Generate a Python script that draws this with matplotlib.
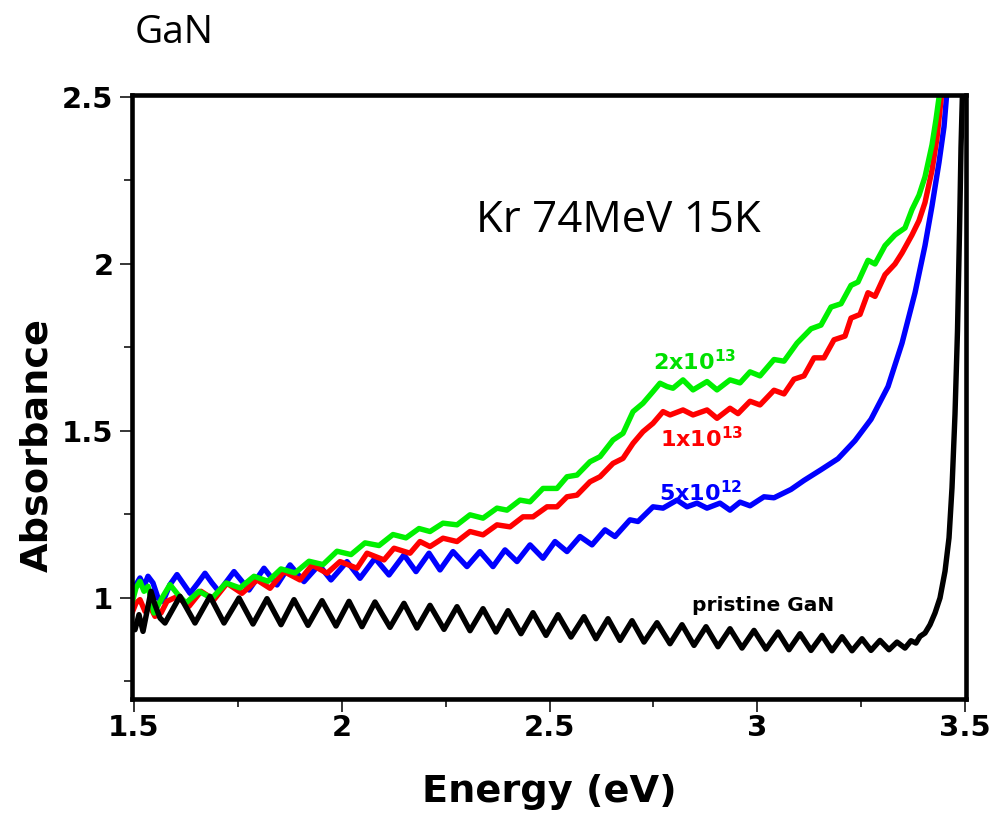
import matplotlib
matplotlib.use("Agg")
import matplotlib.pyplot as plt
from matplotlib.ticker import MultipleLocator, FuncFormatter

# ---- absorbance spectra (photon energy in eV, absorbance) ----
energy_pristine = [1.4928, 1.5024, 1.5120, 1.5217, 1.5313, 1.5409, 1.5505, 1.5626, 1.5746,
                   1.6107, 1.6468, 1.6829, 1.7166, 1.7527, 1.7864, 1.8201, 1.8538, 1.8851,
                   1.9188, 1.9525, 1.9862, 2.0175, 2.0487, 2.0800, 2.1161, 2.1498, 2.1811,
                   2.2124, 2.2461, 2.2774, 2.3087, 2.3400, 2.3713, 2.4001, 2.4314, 2.4603,
                   2.4916, 2.5205, 2.5517, 2.5830, 2.6119, 2.6408, 2.6697, 2.6986, 2.7274,
                   2.7587, 2.7900, 2.8189, 2.8478, 2.8767, 2.9055, 2.9344, 2.9633, 2.9922,
                   3.0211, 3.0500, 3.0764, 3.1029, 3.1294, 3.1558, 3.1799, 3.2040, 3.2281,
                   3.2521, 3.2738, 3.2954, 3.3171, 3.3363, 3.3556, 3.3700, 3.3820, 3.3917,
                   3.4037, 3.4158, 3.4278, 3.4398, 3.4519, 3.4615, 3.4687, 3.4759, 3.4819,
                   3.4868, 3.4904, 3.4940]
abs_pristine = [0.930, 0.905, 0.950, 0.900, 0.960, 1.020, 0.980, 0.940, 0.925,
                1.005, 0.925, 1.005, 0.925, 1.000, 0.922, 0.998, 0.920, 0.995,
                0.918, 0.992, 0.916, 0.990, 0.914, 0.988, 0.912, 0.984, 0.910,
                0.978, 0.906, 0.974, 0.902, 0.968, 0.898, 0.962, 0.893, 0.956,
                0.888, 0.950, 0.883, 0.944, 0.878, 0.938, 0.873, 0.932, 0.868,
                0.926, 0.863, 0.920, 0.858, 0.914, 0.854, 0.908, 0.850, 0.903,
                0.847, 0.898, 0.845, 0.893, 0.843, 0.888, 0.842, 0.884, 0.842,
                0.878, 0.843, 0.873, 0.845, 0.868, 0.850, 0.872, 0.865, 0.885,
                0.895, 0.920, 0.955, 1.000, 1.080, 1.180, 1.330, 1.550, 1.800,
                2.100, 2.350, 2.520]

energy_5e12 = [1.4952, 1.5048, 1.5144, 1.5241, 1.5337, 1.5457, 1.5578, 1.5698, 1.5866,
               1.6035, 1.6203, 1.6348, 1.6540, 1.6709, 1.6877, 1.7046, 1.7407, 1.7768,
               1.8129, 1.8442, 1.8755, 1.9091, 1.9452, 1.9741, 2.0126, 2.0439, 2.0800,
               2.1137, 2.1498, 2.1787, 2.2100, 2.2365, 2.2677, 2.3014, 2.3327, 2.3640,
               2.3929, 2.4218, 2.4531, 2.4843, 2.5132, 2.5421, 2.5734, 2.6023, 2.6336,
               2.6576, 2.6937, 2.7130, 2.7491, 2.7732, 2.8069, 2.8309, 2.8550, 2.8790,
               2.9103, 2.9344, 2.9585, 2.9826, 3.0162, 3.0403, 3.0812, 3.1125, 3.1534,
               3.1943, 3.2352, 3.2738, 3.3147, 3.3484, 3.3797, 3.4037, 3.4206, 3.4374,
               3.4495, 3.4567]
abs_5e12 = [1.000, 1.040, 1.060, 1.035, 1.065, 1.045, 1.000, 0.990, 1.040,
            1.070, 1.040, 1.014, 1.045, 1.074, 1.045, 1.019, 1.079, 1.024,
            1.089, 1.039, 1.099, 1.049, 1.099, 1.054, 1.109, 1.059, 1.119,
            1.069, 1.129, 1.079, 1.134, 1.084, 1.139, 1.094, 1.139, 1.094,
            1.144, 1.109, 1.159, 1.119, 1.169, 1.139, 1.184, 1.159, 1.204,
            1.184, 1.234, 1.229, 1.273, 1.269, 1.293, 1.273, 1.284, 1.269,
            1.284, 1.263, 1.287, 1.276, 1.303, 1.300, 1.325, 1.352, 1.384,
            1.417, 1.471, 1.535, 1.633, 1.763, 1.914, 2.055, 2.174, 2.304,
            2.411, 2.520]

energy_1e13 = [1.4952, 1.5048, 1.5144, 1.5265, 1.5385, 1.5505, 1.5650, 1.5794, 1.6035,
               1.6324, 1.6613, 1.6925, 1.7238, 1.7599, 1.7960, 1.8273, 1.8610, 1.8995,
               1.9284, 1.9645, 1.9958, 2.0367, 2.0608, 2.1017, 2.1258, 2.1643, 2.1883,
               2.2124, 2.2437, 2.2774, 2.3087, 2.3400, 2.3736, 2.4049, 2.4362, 2.4603,
               2.4940, 2.5180, 2.5421, 2.5662, 2.5975, 2.6215, 2.6528, 2.6769, 2.7010,
               2.7250, 2.7491, 2.7732, 2.7901, 2.8213, 2.8454, 2.8791, 2.9031, 2.9344,
               2.9537, 2.9826, 3.0066, 3.0403, 3.0644, 3.0884, 3.1125, 3.1366, 3.1606,
               3.1847, 3.2112, 3.2256, 3.2473, 3.2665, 3.2834, 3.3075, 3.3315, 3.3484,
               3.3724, 3.3893, 3.4037, 3.4206, 3.4326, 3.4447]
abs_1e13 = [0.955, 0.985, 0.995, 0.960, 0.975, 0.945, 0.955, 0.990, 1.004,
            0.975, 1.020, 0.995, 1.044, 1.014, 1.054, 1.029, 1.079, 1.054,
            1.099, 1.074, 1.109, 1.089, 1.134, 1.114, 1.149, 1.134, 1.169,
            1.154, 1.179, 1.169, 1.199, 1.189, 1.219, 1.213, 1.243, 1.243,
            1.273, 1.273, 1.303, 1.308, 1.348, 1.363, 1.403, 1.418, 1.463,
            1.498, 1.523, 1.558, 1.548, 1.563, 1.548, 1.563, 1.538, 1.568,
            1.552, 1.589, 1.578, 1.622, 1.611, 1.655, 1.665, 1.719, 1.719,
            1.773, 1.784, 1.838, 1.849, 1.914, 1.903, 1.968, 2.000, 2.033,
            2.087, 2.130, 2.184, 2.281, 2.378, 2.520]

energy_2e13 = [1.4952, 1.5048, 1.5144, 1.5241, 1.5337, 1.5481, 1.5674, 1.5866, 1.6059,
               1.6251, 1.6564, 1.6877, 1.7214, 1.7551, 1.7888, 1.8225, 1.8538, 1.8875,
               1.9212, 1.9549, 1.9886, 2.0223, 2.0560, 2.0897, 2.1233, 2.1546, 2.1859,
               2.2124, 2.2437, 2.2774, 2.3087, 2.3400, 2.3736, 2.3977, 2.4290, 2.4531,
               2.4843, 2.5180, 2.5421, 2.5662, 2.5975, 2.6215, 2.6528, 2.6769, 2.7010,
               2.7250, 2.7491, 2.7659, 2.7828, 2.7972, 2.8213, 2.8454, 2.8791, 2.9031,
               2.9344, 2.9585, 2.9826, 3.0066, 3.0403, 3.0644, 3.0957, 3.1294, 3.1534,
               3.1775, 3.2016, 3.2256, 3.2425, 3.2665, 3.2834, 3.3075, 3.3315, 3.3556,
               3.3724, 3.3893, 3.4037, 3.4206, 3.4302, 3.4398]
abs_2e13 = [0.985, 1.030, 1.050, 1.020, 1.035, 0.955, 1.000, 1.040, 1.010,
            0.985, 1.020, 0.999, 1.045, 1.030, 1.065, 1.050, 1.087, 1.075,
            1.110, 1.100, 1.140, 1.130, 1.165, 1.157, 1.190, 1.180, 1.208,
            1.199, 1.224, 1.219, 1.249, 1.239, 1.269, 1.263, 1.293, 1.288,
            1.328, 1.328, 1.363, 1.368, 1.408, 1.423, 1.473, 1.493, 1.558,
            1.583, 1.618, 1.643, 1.633, 1.628, 1.653, 1.623, 1.648, 1.623,
            1.653, 1.644, 1.677, 1.665, 1.714, 1.709, 1.763, 1.806, 1.817,
            1.871, 1.881, 1.936, 1.946, 2.011, 2.000, 2.055, 2.087, 2.108,
            2.163, 2.206, 2.261, 2.357, 2.433, 2.520]

# fluence labels
label_2e13 = r"$\mathbf{2x10^{13}}$"
label_1e13 = r"$\mathbf{1x10^{13}}$"
label_5e12 = r"$\mathbf{5x10^{12}}$"
label_pristine = "pristine GaN"

plt.rcParams["font.family"] = ["DejaVu Sans"]
plt.rcParams["font.weight"] = "bold"
plt.rcParams["mathtext.fontset"] = "dejavusans"

fig = plt.figure(figsize=(9.94, 8.14), dpi=100)
ax = fig.add_axes([0.1323, 0.1413, 0.840, 0.7414])

lw = 3.9
series = [
    (energy_5e12, abs_5e12, "#0000ff"),
    (energy_1e13, abs_1e13, "#ff0000"),
    (energy_2e13, abs_2e13, "#00f000"),
    (energy_pristine, abs_pristine, "#000000"),
]
for e, a, col in series:
    ax.plot(e, a, color=col, lw=lw, solid_joinstyle="round", solid_capstyle="round")

ax.set_xlim(1.494, 3.5035)
ax.set_ylim(0.6976, 2.5045)

ax.xaxis.set_major_locator(MultipleLocator(0.5))
ax.xaxis.set_minor_locator(MultipleLocator(0.25))
ax.yaxis.set_major_locator(MultipleLocator(0.5))
ax.yaxis.set_minor_locator(MultipleLocator(0.25))
fmt = FuncFormatter(lambda v, p: f"{v:g}")
ax.xaxis.set_major_formatter(fmt)
ax.yaxis.set_major_formatter(fmt)

for s in ax.spines.values():
    s.set_linewidth(3.3)
ax.tick_params(which="major", direction="out", length=9, width=1.1,
               labelsize=21, pad=4)
ax.tick_params(axis="x", which="major", pad=1.5)
ax.tick_params(which="minor", direction="out", length=5.5, width=1.1)

ax.set_xlabel("Energy (eV)", fontsize=27.5, fontweight="bold")
ax.set_ylabel("Absorbance", fontsize=27.5, fontweight="bold")
ax.xaxis.set_label_coords(0.5, -0.124)
ax.yaxis.set_label_coords(-0.091, 0.421)

ax.text(2.749, 1.683, label_2e13, color="#00e000", fontsize=16)
ax.text(2.766, 1.452, label_1e13, color="#ff0000", fontsize=16)
ax.text(2.764, 1.290, label_5e12, color="#0000ff", fontsize=16)
ax.text(2.843, 0.962, label_pristine, color="black", fontsize=14.5, fontweight="bold")

ax.text(2.322, 2.095, "Kr 74MeV 15K", fontsize=31.5, fontweight="normal",
        family=["Open Sans", "DejaVu Sans"], color="black")
fig.text(135 / 994, 1 - 43 / 814, "GaN", fontsize=28, fontweight="normal",
         family=["Open Sans", "DejaVu Sans"], color="black")

fig.savefig("out.png", dpi=100, facecolor="white")
